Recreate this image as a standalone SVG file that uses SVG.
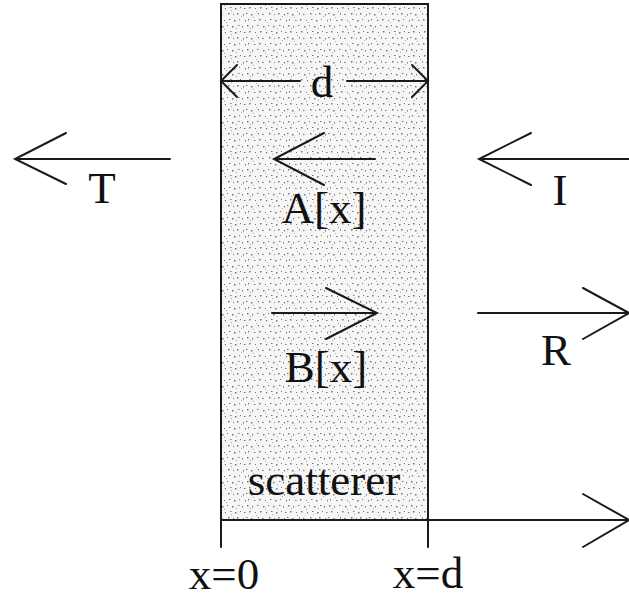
<svg xmlns="http://www.w3.org/2000/svg" width="629" height="599" viewBox="0 0 629 599">
<style>
  .ln { stroke:#1a1a1a; stroke-width:2; fill:none; stroke-linecap:round; }
  .tx { font-family:"Liberation Serif","Times New Roman",serif; font-size:45px; fill:#111; }
</style>
<defs>
  <pattern id="stip" width="41" height="24" patternUnits="userSpaceOnUse">
    <rect width="41" height="24" fill="#f6f6f6"/>
    <g fill="#777">
      <rect x="1" y="1" width="1.5" height="1.5"/><rect x="6" y="2" width="1" height="1.5"/>
      <rect x="11" y="1" width="1.5" height="1"/><rect x="17" y="2" width="1.5" height="1.5"/>
      <rect x="22" y="1" width="1" height="1"/><rect x="27" y="2" width="1.5" height="1.5"/>
      <rect x="33" y="1" width="1.5" height="1"/><rect x="37" y="2" width="1" height="1.5"/>
      <rect x="3" y="7" width="1.5" height="1.5"/><rect x="9" y="8" width="1" height="1"/>
      <rect x="14" y="7" width="1.5" height="1.5"/><rect x="20" y="8" width="1" height="1.5"/>
      <rect x="25" y="7" width="1.5" height="1"/><rect x="30" y="8" width="1.5" height="1.5"/>
      <rect x="35" y="7" width="1" height="1"/><rect x="39" y="8" width="1.5" height="1"/>
      <rect x="0" y="13" width="1.5" height="1"/><rect x="5" y="14" width="1.5" height="1.5"/>
      <rect x="12" y="13" width="1" height="1.5"/><rect x="16" y="14" width="1.5" height="1"/>
      <rect x="23" y="13" width="1.5" height="1.5"/><rect x="28" y="14" width="1" height="1"/>
      <rect x="32" y="13" width="1.5" height="1.5"/><rect x="38" y="14" width="1" height="1.5"/>
      <rect x="2" y="19" width="1" height="1.5"/><rect x="8" y="20" width="1.5" height="1"/>
      <rect x="13" y="19" width="1.5" height="1.5"/><rect x="19" y="20" width="1" height="1"/>
      <rect x="24" y="19" width="1.5" height="1"/><rect x="29" y="20" width="1.5" height="1.5"/>
      <rect x="34" y="19" width="1" height="1"/><rect x="40" y="20" width="1" height="1.5"/>
    </g>
    <g fill="#aaa">
      <rect x="4" y="4" width="1" height="1"/><rect x="19" y="5" width="1" height="1"/>
      <rect x="31" y="4" width="1" height="1"/><rect x="10" y="11" width="1" height="1"/>
      <rect x="26" y="10" width="1" height="1"/><rect x="36" y="16" width="1" height="1"/>
      <rect x="7" y="17" width="1" height="1"/><rect x="21" y="22" width="1" height="1"/>
    </g>
  </pattern>
</defs>

<g id="scatterer">
  <rect x="221" y="4" width="207" height="516" fill="url(#stip)" stroke="#1a1a1a" stroke-width="2"/>
  <text class="tx" x="324" y="495" text-anchor="middle">scatterer</text>
</g>

<g id="axis">
  <line class="ln" x1="221" y1="520" x2="221" y2="547"/>
  <line class="ln" x1="428" y1="520" x2="428" y2="547"/>
  <text class="tx" x="224" y="589" text-anchor="middle">x=0</text>
  <text class="tx" x="428" y="588" text-anchor="middle">x=d</text>
</g>

<g id="width-d">
  <text class="tx" x="322" y="97" text-anchor="middle">d</text>
</g>

<g id="label-T"><text class="tx" x="102" y="203" text-anchor="middle">T</text></g>
<g id="label-I"><text class="tx" x="560" y="205" text-anchor="middle">I</text></g>
<g id="label-R"><text class="tx" x="556" y="365" text-anchor="middle">R</text></g>
<g id="label-A"><text class="tx" x="324" y="223" text-anchor="middle">A[x]</text></g>
<g id="label-B"><text class="tx" x="326" y="382" text-anchor="middle">B[x]</text></g>

<g id="connectors">
  <!-- d dimension -->
  <path class="ln" d="M221 81 H300 M347 81 H428"/>
  <path class="ln" d="M237 65 L221 81 L237 97"/>
  <path class="ln" d="M412 65 L428 81 L412 97"/>
  <!-- T -->
  <path class="ln" d="M15 159 H170 M66 133 L15 159 L66 184"/>
  <!-- A -->
  <path class="ln" d="M274 159 H375 M324 133 L274 159 L324 185"/>
  <!-- I -->
  <path class="ln" d="M479 159 H629 M531 133 L479 159 L531 185"/>
  <!-- B -->
  <path class="ln" d="M272 313 H377 M326 288 L377 313 L326 339"/>
  <!-- R -->
  <path class="ln" d="M478 313 H629 M583 288 L629 313 L583 339"/>
  <!-- x axis -->
  <path class="ln" d="M221 520 H629 M583 494 L629 520 L583 547"/>
</g>
</svg>
